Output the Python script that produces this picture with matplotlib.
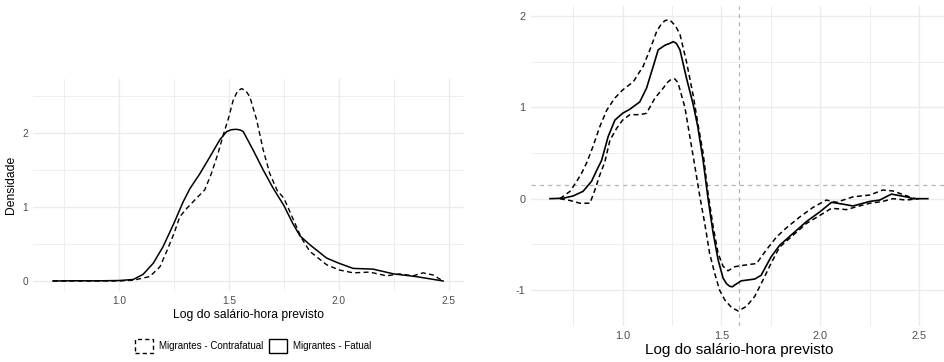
import matplotlib
matplotlib.use("Agg")
import matplotlib.pyplot as plt
from matplotlib.patches import Patch
from matplotlib.ticker import MultipleLocator

plt.rcParams['font.family'] = ['Liberation Sans', 'DejaVu Sans']
plt.rcParams['lines.scale_dashes'] = False
plt.rcParams['lines.solid_joinstyle'] = 'round'
plt.rcParams['lines.dash_joinstyle'] = 'round'

# --- left panel: densities of predicted log hourly wage ---
fatual_x = [0.70, 0.80, 0.90, 1.00, 1.065, 1.11, 1.156, 1.20, 1.25, 1.292, 1.323,
            1.368, 1.414, 1.459, 1.49, 1.512, 1.535, 1.552, 1.565, 1.61, 1.656, 1.70, 1.75,
            1.79, 1.823, 1.868, 1.944, 2.00, 2.065, 2.156, 2.25, 2.35, 2.474]
fatual_y = [0.0, 0.003, 0.002, 0.006, 0.02, 0.09, 0.24, 0.46, 0.78, 1.07, 1.25,
            1.45, 1.68, 1.91, 2.02, 2.045, 2.05, 2.04, 2.02, 1.77, 1.50, 1.26, 1.02,
            0.78, 0.61, 0.49, 0.31, 0.24, 0.17, 0.16, 0.095, 0.06, 0.0]

contra_x = [0.70, 0.80, 0.90, 1.00, 1.065, 1.14, 1.186, 1.217, 1.25, 1.277, 1.308,
            1.353, 1.39, 1.42, 1.45, 1.474, 1.50, 1.52, 1.54, 1.558, 1.577, 1.595, 1.626,
            1.656, 1.686, 1.72, 1.75, 1.79, 1.83, 1.868, 1.944, 2.00, 2.065,
            2.14, 2.217, 2.277, 2.338, 2.383, 2.43, 2.467]
contra_y = [0.0, 0.0, 0.0, 0.0, 0.01, 0.06, 0.19, 0.40, 0.64, 0.87, 0.98,
            1.12, 1.23, 1.45, 1.72, 1.97, 2.22, 2.45, 2.57, 2.60, 2.57, 2.49, 2.18,
            1.77, 1.45, 1.22, 1.12, 0.85, 0.58, 0.40, 0.22, 0.15, 0.11,
            0.12, 0.07, 0.095, 0.07, 0.11, 0.08, 0.01]

# --- right panel: density difference with confidence band ---
diff_x = [0.633, 0.70, 0.75, 0.80, 0.843, 0.869, 0.894, 0.927, 0.961, 1.00, 1.037,
          1.087, 1.121, 1.155, 1.18, 1.214, 1.238, 1.256, 1.272, 1.29, 1.323, 1.357, 1.38,
          1.407, 1.432, 1.458, 1.483, 1.508, 1.525, 1.542, 1.555, 1.567, 1.60, 1.634, 1.668,
          1.70, 1.75, 1.794, 1.862, 1.93, 2.00, 2.056, 2.114, 2.165, 2.25,
          2.30, 2.359, 2.434, 2.468, 2.543]
diff_y = [0.0, 0.005, 0.03, 0.08, 0.19, 0.31, 0.42, 0.68, 0.86, 0.935, 0.98,
          1.06, 1.21, 1.45, 1.63, 1.68, 1.70, 1.72, 1.70, 1.63, 1.32, 1.03, 0.79,
          0.42, 0.0, -0.38, -0.67, -0.87, -0.93, -0.96, -0.965, -0.945, -0.90, -0.89, -0.88,
          -0.84, -0.64, -0.51, -0.38, -0.25, -0.14, -0.04, -0.06, -0.08, -0.03,
          -0.015, 0.05, 0.02, 0.0, 0.0]

upper_x = [0.683, 0.734, 0.768, 0.793, 0.82, 0.85, 0.885, 0.92, 0.96, 1.00, 1.054,
           1.104, 1.138, 1.172, 1.195, 1.214, 1.232, 1.247, 1.268, 1.29, 1.323, 1.357, 1.38, 1.407,
           1.432, 1.458, 1.483, 1.508, 1.533, 1.567, 1.61, 1.677, 1.727, 1.778,
           1.828, 1.896, 1.963, 2.03, 2.08, 2.165, 2.25, 2.316, 2.366, 2.45, 2.48]
upper_y = [0.0, 0.08, 0.19, 0.28, 0.40, 0.57, 0.79, 0.97, 1.10, 1.19, 1.28,
           1.45, 1.63, 1.83, 1.91, 1.95, 1.96, 1.94, 1.89, 1.80, 1.50, 1.13, 0.83, 0.50,
           0.06, -0.31, -0.60, -0.74, -0.79, -0.745, -0.73, -0.71, -0.56, -0.42,
           -0.32, -0.20, -0.095, -0.015, -0.04, 0.02, 0.04, 0.095, 0.085, 0.02, 0.0]

lower_x = [0.683, 0.734, 0.785, 0.835, 0.86, 0.885, 0.91, 0.936, 0.97, 1.00, 1.037,
           1.087, 1.121, 1.163, 1.205, 1.23, 1.247, 1.265, 1.28, 1.315, 1.34, 1.365, 1.39,
           1.416, 1.44, 1.466, 1.49, 1.517, 1.55, 1.584, 1.626, 1.668, 1.71,
           1.75, 1.794, 1.862, 1.93, 2.00, 2.056, 2.131, 2.18, 2.25, 2.316,
           2.366, 2.434, 2.50]
lower_y = [0.0, -0.02, -0.05, -0.05, 0.095, 0.26, 0.40, 0.64, 0.77, 0.86, 0.92,
           0.92, 0.935, 1.10, 1.21, 1.28, 1.31, 1.31, 1.27, 1.0, 0.68, 0.36, 0.03,
           -0.28, -0.60, -0.82, -1.0, -1.11, -1.19, -1.23, -1.18, -1.07, -0.89,
           -0.71, -0.53, -0.40, -0.27, -0.18, -0.105, -0.12, -0.09, -0.05, -0.03,
           0.0, -0.015, 0.0]

vline_x = 1.589
hline_y = 0.15

legend_labels = ['Migrantes - Contrafatual', 'Migrantes - Fatual']
xlabel = 'Log do salário-hora previsto'

W, H = 944, 362
TICK_GREY = '#4D4D4D'
GRID = '#EBEBEB'
DASH = (0, (3.6, 2.4))


def px_axes(fig, x0, y0, x1, y1):
    """Add axes from pixel box (top-left origin)."""
    return fig.add_axes([x0 / W, 1 - y1 / H, (x1 - x0) / W, (y1 - y0) / H])


def style(ax, tick_size):
    for s in ax.spines.values():
        s.set_visible(False)
    ax.xaxis.set_major_locator(MultipleLocator(0.5))
    ax.xaxis.set_minor_locator(MultipleLocator(0.25))
    ax.yaxis.set_major_locator(MultipleLocator(1))
    ax.yaxis.set_minor_locator(MultipleLocator(0.5))
    ax.grid(True, which='major', color=GRID, lw=1.0)
    ax.grid(True, which='minor', color=GRID, lw=0.6)
    ax.set_axisbelow(True)
    ax.tick_params(which='both', length=0, labelsize=tick_size,
                   labelcolor=TICK_GREY, pad=4)


fig = plt.figure(figsize=(W / 100, H / 100), dpi=100)

# left panel
ax1 = px_axes(fig, 33.4, 79, 464, 290.6)
style(ax1, 7.3)
ax1.plot(contra_x, contra_y, color='black', lw=1.0, linestyle=DASH)
ax1.plot(fatual_x, fatual_y, color='black', lw=1.1)
ax1.set_xlim(0.611, 2.569)
ax1.set_ylim(-0.13, 2.73)
ax1.set_xticks([1.0, 1.5, 2.0, 2.5])
ax1.set_xticklabels(['1.0', '1.5', '2.0', '2.5'])
ax1.set_xlabel(xlabel, fontsize=8.7, labelpad=2)
ax1.set_ylabel('Densidade', fontsize=8.7, labelpad=4)

handles = [Patch(facecolor='white', edgecolor='black', lw=1.0, linestyle=(0, (3, 2.2))),
           Patch(facecolor='white', edgecolor='black', lw=1.0)]
fig.legend(handles, legend_labels, loc='center', bbox_to_anchor=(253 / W, 1 - 346 / H),
           ncol=2, frameon=False, fontsize=7, handlelength=1.85, handleheight=1.75,
           handletextpad=0.6, columnspacing=0.6, borderpad=0)

# right panel
ax2 = px_axes(fig, 531.1, 6, 946.7, 325.6)
style(ax2, 7.8)
ax2.axvline(vline_x, color='#B3B3B3', lw=0.9, linestyle=(0, (3, 3)))
ax2.axhline(hline_y, color='#B3B3B3', lw=0.9, linestyle=(0, (3, 3)))
ax2.plot(upper_x, upper_y, color='black', lw=1.1, linestyle=DASH)
ax2.plot(lower_x, lower_y, color='black', lw=1.1, linestyle=DASH)
ax2.plot(diff_x, diff_y, color='black', lw=1.2)
ax2.set_xlim(0.5375, 2.6385)
ax2.set_ylim(-1.39, 2.11)
ax2.set_xticks([1.0, 1.5, 2.0, 2.5])
ax2.set_xticklabels(['1.0', '1.5', '2.0', '2.5'])
ax2.set_yticks([-1, 0, 1, 2])
ax2.set_yticklabels(['-1', '0', '1', '2'])
ax2.set_xlabel(xlabel, fontsize=11, labelpad=1)

fig.savefig('out.png', dpi=100)
